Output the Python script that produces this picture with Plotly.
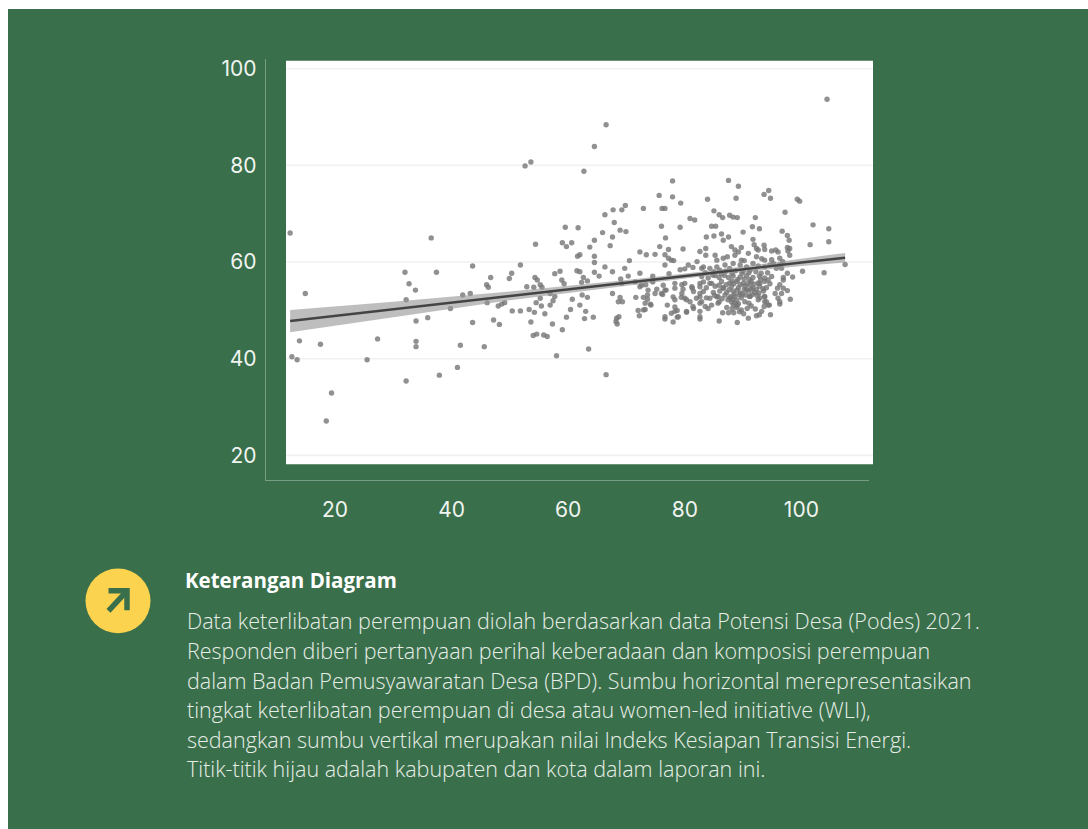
import plotly.graph_objects as go

# Values (x = women-led initiative, y = energy transition readiness)
points_left = [
(12.3,66),(12.6,40.4),(13.5,39.8),(13.9,43.7),(14.9,53.5),(17.5,43),(18.5,27.1),(19.4,32.9),(25.5,39.8),(27.3,44.1),
(32,57.9),(32.2,52.2),(32.2,35.4),(32.7,55.5),(33.8,54.2),(33.9,47.8),(33.9,43.6),(33.9,42.5),(35.9,48.5),(36.5,65),
(37.4,57.9),(37.9,36.6),(39.8,50.4),(41,38.2),(41.5,42.8),(41.9,53.2),(43.2,53.5),(43.6,59.2),(43.6,47.5),(45.6,42.5),
(46.1,51.6),(46,55.3),(46.3,54.8),(46.7,56.8),(47.2,48),(48.2,47.1),(48,50.9),(48.6,51.3),(49.1,51.6),(49.9,56.6),
(50.3,57.7),(50.4,49.9),(51.8,49.9),(51.8,59.4),(52.6,79.9),(53.6,80.7),(52.9,54.9),(53.3,50.2),(54.1,54.8),(54.2,49.6),
(53.6,47.6),(54,44.8),(54.6,45.1),(54.3,56.8),(54.7,56.3),(54.4,63.7),(55.2,55.3),(55.5,54.8),(55.2,52.5),(54.5,51.6),
(55.4,50.9),(56,49.3),(55.8,44.9),(56.4,44.6),(56.9,53.5),(57.7,52.9),(57.4,52),(56.9,51.1),(57.3,47.2),(59,46),
(59.7,48.6),(60.4,50.2),(60.7,52.3),(62,51.1),(58,40.6),(57.7,57.6),(58.6,58.1),(58.9,56.3),(59.3,55.5),(61.5,58.2),
(62,58),(61.6,61.2),(62,61.5),(59,64),(59.7,63.2),(60.6,64),(59.5,67.2),(61.7,67.1),(62.7,78.8),(64.5,83.9),(66.5,88.4),
(62.6,56.8),(62.3,55.8),(63.3,56.1),(62.4,53.2),(63.3,52.7),(63,49.8),(62.8,48.3),(64.3,48.6),(63.5,42),(66.5,36.7),
(63.7,63.1),(64.5,64.5),(64.5,61.2),(64.5,59.9),(64.5,57.9),(65.3,57.1),(65.9,66.1),(66.3,69.8),(66.3,59),(67.2,63.4),
(67.6,65.2),(67.7,70.8),(67.9,68.2),(67.6,58),(67.6,53.5),(68.9,66.6),(69.9,66.3),(69.2,70.8),(69.8,71.7),(69.7,58.7),
(68.9,52.7),(68.6,51.8),(69.3,51.8),(68.3,48.4),(68.7,48.7),(68.2,47.7),(68.4,47.2),(69,56.5),(69.2,55.6),(70.3,57.1),
(70.5,60.3),
]
points_middle = [
(71.6,52.7),(71.5,55.9),(72,50),(72.2,48.9),(72.3,62.1),(72.3,57.7),(72.3,54.9),(72.6,55.2),(72.9,71.1),(72.9,52.7),
(72.9,50.1),(73.2,51.5),(73.2,50.2),(73.4,61.5),(73.3,55.3),(73.6,53.2),(73.6,52.3),(73.7,54.2),(74.1,51.3),(74.5,57.1),
(74.5,56.3),(74.5,55.9),(74.2,51.1),(74.9,61.6),(74.9,53.5),(75.2,54.4),(75.6,73.8),(75.7,63.2),(76,67.4),(76,53.5),
(76.1,71.1),(76.6,71.1),(76.6,61.5),(76.6,59.4),(76.3,55.2),(76.6,54.2),(76.8,54.2),(76.2,53.3),(76.7,65),(76.6,48.7),
(76.6,48.2),(77,51.1),(77.2,62.6),(77.2,60.8),(77.3,57.6),(77.7,60.4),(77.7,49.4),(77.9,76.8),(77.9,73.5),(78.1,60.3),
(78,52.8),(78.3,52.2),(78.3,54.6),(78.3,55.6),(78.3,50.7),(78.3,49.8),(78.7,50),(78.7,48.6),(78,47.6),(78.9,48.7),
(79.3,72.2),(79.2,67.2),(79.7,62.7),(79.2,58.4),(79.5,55.3),(79.5,53.5),(79.4,52.7),(79.7,54.4),(80,58.6),(80,55.6),
(80,52.5),(80.3,52.2),(80.3,49.8),(80.3,49.6),(80.6,59.4),(80.9,69),(81.4,58.9),(81.7,68.7),(81.2,54.9),(81.5,53.9),
(80.9,51.8),(81.3,54.6),(81.5,50.4),(81.4,50.8),(82.1,60.1),(82,52.5),(82.6,62.2),(82.6,55.6),(82.6,53.5),(82.6,51.5),
(82.6,49.8),(82.6,48.7),(82.6,48.2),(82.9,58.7),(82.9,51.8),
]
points_dense = [
(83.2,59),(84.3,58.7),(85.5,59),(86.9,59.4),(88.3,59.7),(89.5,59.4),(90.6,59),(91.7,59.7),(92.6,59.2),(93.7,59),
(94.6,59.4),(95.7,58.7),(96.6,58.7),(91.2,58.3),(87.7,58.7),(86,58.3),
(82.9,57),(84,56.7),(85.2,57.2),(87.5,56.8),(88.3,57.1),(89.5,56.9),(90.6,57.2),(91.7,56.8),(92.8,57.1),(93.7,56.7),(94.9,57),
(83.2,55.9),(84.3,55.6),(86.3,56),(87.7,55.7),(88.9,56),(90,55.6),(91.4,56),(92.6,55.7),(93.7,56),
(82.6,54.9),(83.7,54.7),(85.2,55),(86.6,54.7),(88,55),(89.2,54.7),(90.3,55),(91.7,54.6),(92.8,55),(94,54.7),
(83.2,53.9),(84.9,53.7),(86,54),(87.2,53.7),(88.3,54),(89.5,53.6),(90.9,54),(92,53.7),(93.5,54),
(82.6,52.8),(83.7,52.6),(85.7,52.9),(87.7,52.6),(88.6,52.9),(89.7,52.6),(91.2,52.9),(92.9,52.6),(93.7,52.9),
(88,51.8),(88.6,51.5),(89,51),(90.3,51.8),(91,51.5),(93.7,51.8),(94.3,51.1),(83.5,50.8),(84,50.4),(84.6,51.1),
(85.7,51.5),(85.9,51.8),(86.9,53.2),(86.6,54.6),(84.3,52.5),(85.5,52.8),
(88.2,52.3),(88.9,52.1),(89.2,51.4),(88.3,51.1),(87.9,52.9),(89.4,53.2),(90.6,54.4),(91.1,52.9),(92.3,54.3),(91.2,55.3),
(93,56.4),(90.2,56.5),(89.1,56.4),(88.1,56.1),(86.8,57.2),(85.9,56.8),(84.8,57.3),(94.2,57.8),(92.2,58),(90,58.1),
(88.7,58.2),(87,58.1),(85,58),(83.5,57.8),
(85.9,47.8),(86.5,49.5),(87.5,49.5),(89,47.5),(90.9,48.4),(92.3,48.9),(92.8,49.1),(93.2,49.8),(93.6,50.8),(94.5,51.1),
(94.7,49.1),(92.6,52.2),(93.7,52.8),(94,51.8),
(87.2,50.6),(88.1,50.3),(88.9,50.6),(89.7,50.1),(90.7,50.4),(91.4,50.9),(92.1,50.3),(89.4,49.7),(88.4,49.5),(90.1,49.3),
(89.9,53.4),(90.4,53.2),(91.6,53.3),(92.4,53.1),(88.5,53.4),(87.4,52.2),(86.4,52.4),(85.1,53.1),(91.9,55.4),(90.7,55.5),
(89.5,55.3),(88.4,55.5),(87.1,55.3),(92.9,55.6),(94.3,56.3),(91.1,56.4),(89.8,57.7),(91,57.8),(93.1,57.7),(88.1,57.7),
(86.3,57.6),(92.7,53.6),(91.4,54.4),(90.2,54.3),(89,54.2),(87.6,54.3),(85.9,55.2),(84.6,55.6),(93.4,54.5),(94.6,55.5),
]
points_upper = [
(83.7,65.2),(83.9,73),(84.6,67.4),(85.3,67.4),(85,70.6),(85,65.4),(85.9,69.8),(86.3,65.8),(86.5,69.2),(86.6,64.5),
(87.5,76.9),(87.5,65.2),(87.7,69.7),(88.3,69.3),(88.8,73.2),(89,69.2),(89.2,75.7),(90,66.2),(91.6,67.3),(91.7,64.7),
(91.9,63.6),(92.1,69.2),(92.3,62.8),(92.6,62.5),(92.8,66.9),(93.6,74),(93.6,63.5),(93.7,62.6),(94.4,74.8),(94.7,73.2),
(96.7,66.4),(97.2,70.3),(97.6,65.5),(97.9,64.5),(97.6,63),(98,62.8),(97.7,62.3),(98,61.4),(99.3,73),(99.7,72.6),
(101.5,63.6),(102,67.7),(104.7,66.9),(104.7,64.2),(104.4,93.7),(88,63.2),(88.6,62.5),(89.2,62.1),(89.7,63),(90.9,61.8),
(94.9,62.3),(95.6,62.5),(96,62.1),(83.6,62.8),(83.6,61.4),(85.2,61.4),(85.5,60.4),(86.6,60.8),(87.3,61.1),(88.6,61.4),
(89.7,60.4),(90.2,60.3),(92.3,61.1),(93.2,60.7),(93.7,60.4),(94.9,60.5),(96.3,60.8),(96.8,60.1),(95.2,59.7),(96.3,59.4),
(107.5,59.5),(100.2,58.1),(103.9,57.8),(97.6,57.7),(98.5,56.9),(96.9,56.8),(96.9,56.3),(96.3,55.3),(95.9,54.6),(95.5,53.5),
(96.9,54.6),(97.6,54.1),(96.6,53.5),(98.1,52.3),(96,52.5),(96.3,51.8),(96.3,51.3),
]

trend_x = [12.3, 30, 50, 70, 85, 100, 107.5]
trend_y = [47.8, 50.2, 53.0, 55.7, 57.8, 59.9, 60.9]
band_upper = [50.1, 51.8, 53.9, 56.3, 58.3, 60.6, 61.9]
band_lower = [45.5, 48.6, 52.1, 55.1, 57.3, 59.2, 59.9]

x_ticks = [20, 40, 60, 80, 100]
y_ticks = [20, 40, 60, 80, 100]

title_text = "Keterangan Diagram"
body_lines = [
    "Data keterlibatan perempuan diolah berdasarkan data Potensi Desa (Podes) 2021.",
    "Responden diberi pertanyaan perihal keberadaan dan komposisi perempuan",
    "dalam Badan Pemusyawaratan Desa (BPD). Sumbu horizontal merepresentasikan",
    "tingkat keterlibatan perempuan di desa atau women-led initiative (WLI),",
    "sedangkan sumbu vertikal merupakan nilai Indeks Kesiapan Transisi Energi.",
    "Titik-titik hijau adalah kabupaten dan kota dalam laporan ini.",
]
body_y = [620, 650, 680, 709, 739, 768]

GREEN = "#3A6F4B"
W, H = 1088, 829
def px(x): return x / W
def py(y): return 1 - y / H

points = points_left + points_middle + points_dense + points_upper
xs = [p[0] for p in points]
ys = [p[1] for p in points]

fig = go.Figure()
fig.add_trace(go.Scatter(x=xs, y=ys, mode="markers", hoverinfo="skip",
    marker=dict(size=5.4, color="#757575", opacity=0.8, line=dict(width=0))))
fig.add_trace(go.Scatter(x=trend_x + trend_x[::-1], y=band_upper + band_lower[::-1], mode="lines",
    fill="toself", fillcolor="rgba(150,150,150,0.62)", line=dict(width=0), hoverinfo="skip"))
fig.add_trace(go.Scatter(x=trend_x, y=trend_y, mode="lines", hoverinfo="skip",
    line=dict(color="#444444", width=2.4)))

shapes = [
    dict(type="rect", xref="paper", yref="paper", x0=px(8), x1=1, y0=0, y1=py(6), fillcolor=GREEN,
         line=dict(width=0), layer="below"),
    dict(type="rect", xref="paper", yref="paper", x0=px(286), x1=px(873), y0=py(463), y1=py(58),
         fillcolor="white", line=dict(width=0), layer="below"),
]
for t in y_ticks:
    shapes.append(dict(type="line", xref="paper", yref="y", x0=px(286), x1=px(873), y0=t, y1=t,
                       line=dict(color="#f1f1f1", width=1.6), layer="below"))
# icon
shapes.append(dict(type="circle", xref="paper", yref="paper", x0=px(85.5), x1=px(150.5), y0=py(632.5), y1=py(567.5),
                   fillcolor="#FCD34F", line=dict(width=0)))
arrow = f"M {px(108.5)} {py(590)} L {px(127)} {py(590)} L {px(127)} {py(609.5)}"
shapes.append(dict(type="path", xref="paper", yref="paper", path=arrow, line=dict(color=GREEN, width=5.5)))
shapes.append(dict(type="line", xref="paper", yref="paper", x0=px(108.5), x1=px(127), y0=py(610), y1=py(590),
                   line=dict(color=GREEN, width=5.5)))

annotations = [dict(text=f"<b>{title_text}</b>", xref="paper", yref="paper", x=px(184), y=py(579),
                    xanchor="left", yanchor="middle", showarrow=False, borderpad=0,
                    font=dict(family="Open Sans", size=20.5, color="white"))]
for line, y in zip(body_lines, body_y):
    annotations.append(dict(text=line, xref="paper", yref="paper", x=px(186), y=py(y),
                            xanchor="left", yanchor="middle", showarrow=False, borderpad=0,
                            font=dict(family="Open Sans", size=21.5, weight=300, color="#E7EEE8")))

axis_line = "rgba(255,255,255,0.32)"
tick_font = dict(family="Inter", size=21, color="#F0F4F0")
fig.update_layout(
    width=W, height=H, margin=dict(l=0, r=0, t=0, b=0, pad=0),
    paper_bgcolor="white", plot_bgcolor="rgba(0,0,0,0)", showlegend=False,
    font=dict(family="Open Sans"),
    xaxis=dict(domain=[px(266), px(869)], range=[8.16, 111.6], tickvals=x_ticks, showgrid=False, zeroline=False,
               showline=True, linecolor=axis_line, linewidth=1.4, ticks="", tickfont=tick_font, ticklabelstandoff=10),
    yaxis=dict(domain=[py(479), py(56)], range=[14.85, 102.06], tickvals=y_ticks, showgrid=False, zeroline=False,
               showline=True, linecolor=axis_line, linewidth=1.4, ticks="", tickfont=tick_font, ticklabelstandoff=4),
    shapes=shapes, annotations=annotations,
)

fig.write_html("out.html", config={"displayModeBar": False},
               post_script="document.body.style.margin='0';document.documentElement.style.overflow='hidden';")
